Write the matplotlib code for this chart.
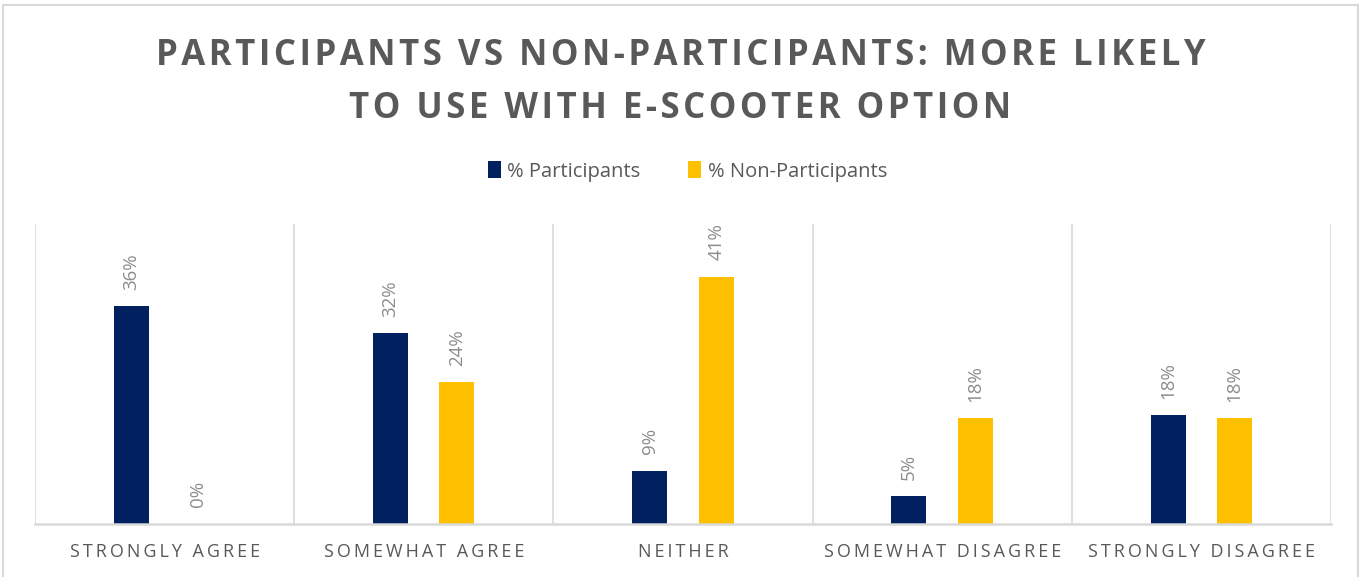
import numpy as np
import matplotlib
matplotlib.use("Agg")
import matplotlib.pyplot as plt
from matplotlib.patches import Rectangle

categories = ["Strongly agree", "Somewhat agree", "Neither",
              "Somewhat disagree", "Strongly disagree"]
participants = [36.3, 31.8, 8.9, 4.6, 18.1]
non_participants = [0.0, 23.6, 41.2, 17.6, 17.6]
series_names = ["% Participants", "% Non-Participants"]
title_lines = ["Participants vs Non-Participants: More likely",
               "to use with E-Scooter option"]

NAVY = "#002060"
GOLD = "#FFC000"
TEXT = "#595959"
LABEL = "#8c8c8c"
GRID = "#d9d9d9"
FONT = ["Open Sans", "DejaVu Sans"]


def spaced(s, sep="\u2009"):
    """Upper-case text with thin spaces between letters."""
    return sep.join(s.upper())


fig = plt.figure(figsize=(13.61, 5.77), dpi=100)
fig.patches.append(Rectangle((0.002, -0.1), 0.996, 1.091, transform=fig.transFigure,
                             fill=False, edgecolor=GRID, lw=1.5))

ax = fig.add_axes([0.0257, 0.0919, 0.9522, 0.5199])
x = np.arange(len(categories))
off, w = 0.128, 0.135
b1 = ax.bar(x - off, participants, w, color=NAVY, label=series_names[0])
b2 = ax.bar(x + off, non_participants, w, color=GOLD, label=series_names[1])

for bars, vals in ((b1, participants), (b2, non_participants)):
    for rect, v in zip(bars, vals):
        ax.annotate(f"{round(v):d}%", (rect.get_x() + rect.get_width() / 2, v),
                    xytext=(0, 12), textcoords="offset points",
                    rotation=90, ha="center", va="bottom",
                    fontsize=13.5, color=LABEL, family=FONT)

ax.set_xlim(-0.5, len(categories) - 0.5)
ax.set_ylim(0, 50)
for xs in np.arange(-0.5, len(categories), 1.0):
    ax.axvline(xs, color=GRID, lw=1.2, zorder=0)
ax.set_yticks([])
ax.set_xticks(x)
ax.set_xticklabels([spaced(c) for c in categories], fontsize=13,
                   color=TEXT, family=FONT)
ax.tick_params(axis="x", length=0, pad=14)
for side in ("top", "right", "left"):
    ax.spines[side].set_visible(False)
ax.spines["bottom"].set_color(GRID)
ax.spines["bottom"].set_linewidth(1.8)

for line, yy in zip(title_lines, (0.903, 0.811)):
    fig.text(0.5, yy, spaced(line, "\u200a"), ha="center", va="center",
             fontsize=25, fontweight="bold", color=TEXT, family=FONT)

fig.legend(loc="center", bbox_to_anchor=(0.505, 0.703), ncol=2, frameon=False,
           handlelength=0.65, handleheight=0.9, handletextpad=0.3,
           columnspacing=2.4, prop={"family": FONT, "size": 14.5},
           labelcolor=TEXT)

fig.savefig("out.png", dpi=100)
